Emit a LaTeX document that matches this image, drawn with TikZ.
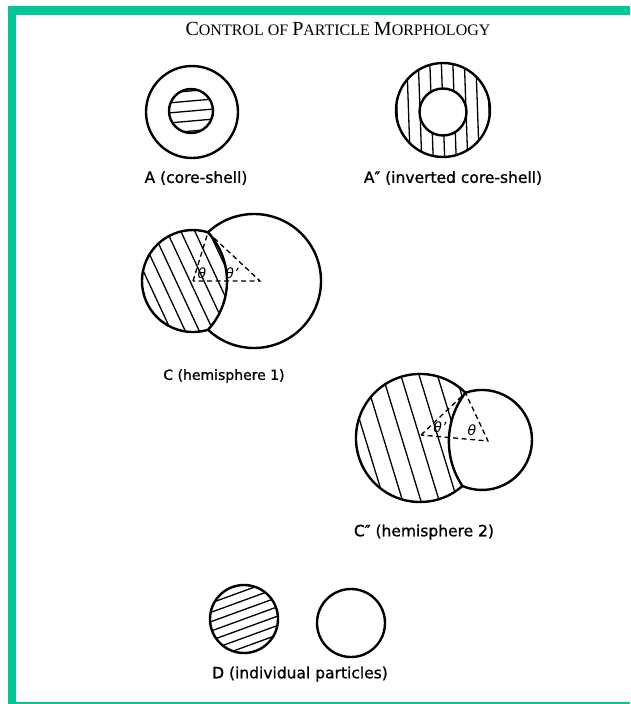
\documentclass[tikz,border=0pt]{standalone}
\usepackage{fontspec}
\setmainfont{DejaVu Sans}
\newfontfamily\labelfont{DejaVu Sans}[FakeBold=1.0]
\newfontfamily\titlefont{Liberation Serif}
\definecolor{framegreen}{RGB}{0,201,151}
\newcommand\TitleBig[1]{{\fontsize{20}{20}\selectfont #1}}
% #1 cx, #2 cy, #3 angle (image coords, y down), #4 spacing, #5 kmax, #6 half length
\newcommand\HatchLines[6]{%
  \foreach \k in {-#5,...,#5}{%
    \draw[hatchline] ({#1+(\k)*#4*(-sin(#3))-#6*cos(#3)},{#2+(\k)*#4*cos(#3)-#6*sin(#3)})
      -- ({#1+(\k)*#4*(-sin(#3))+#6*cos(#3)},{#2+(\k)*#4*cos(#3)+#6*sin(#3)});}}
\begin{document}
\begin{tikzpicture}[x=1pt,y=-1pt,
  outline/.style={line width=2.4pt, line join=round},
  hatchline/.style={line width=1.3pt},
  dashline/.style={line width=1.3pt, dash pattern=on 5pt off 3.5pt},
  lbl/.style={font=\labelfont\fontsize{15.5}{18}\selectfont, inner sep=0pt},
  ang/.style={font=\fontsize{14}{16}\selectfont\itshape, inner sep=0pt}]
\useasboundingbox (0,0) rectangle (630,704);
\fill[white] (0,0) rectangle (630,704);
% frame
\fill[framegreen] (8,6) rectangle (630,14.5);
\fill[framegreen] (8,6) rectangle (16,704);
\fill[framegreen] (8,701.8) rectangle (630,704);
% title
\node[inner sep=0pt] (title) at (338,29)
  {\titlefont\fontsize{16}{20}\selectfont \TitleBig{C}ONTROL OF \TitleBig{P}ARTICLE \TitleBig{M}ORPHOLOGY};

% ---------- A (core-shell)
\begin{scope}
  \clip (191,111) circle[radius=22];
  \HatchLines{191}{111}{-5}{10}{3}{30}
\end{scope}
\draw[outline] (191,111) circle[radius=22];
\draw[outline] (192,112) circle[radius=46];
\node[lbl] (labA) at (196,178) {A (core-shell)};

% ---------- A'' (inverted core-shell)
\begin{scope}
  \clip (443,110) circle[radius=47];
  \HatchLines{443}{110}{88}{11.5}{5}{60}
\end{scope}
\fill[white] (443,112) circle[radius=23.5];
\draw[outline] (443,112) circle[radius=23.5];
\draw[outline] (443,110) circle[radius=47];
\node[lbl] (labAA) at (453,178) {A″ (inverted core-shell)};

% ---------- C (hemisphere 1)
\coordinate (ct) at (208,232.3);
\coordinate (cb) at (208,329.7);
\begin{scope}
  \clip (ct) arc[start angle=-72.88, end angle=-287.12, radius=51]
        arc[start angle=42.63, end angle=-42.63, radius=71.9] -- cycle;
  \HatchLines{190}{281}{65}{12.7}{6}{80}
\end{scope}
\draw[outline] (ct) arc[start angle=-72.88, end angle=-287.12, radius=51]
        arc[start angle=42.63, end angle=-42.63, radius=71.9] -- cycle;
\draw[outline] (ct) arc[start angle=-133.37, end angle=133.37, radius=67];
\coordinate (cl) at (193,281);
\coordinate (cr) at (260,281);
\draw[dashline] (cl) -- (ct) -- (cr) -- cycle;
\node[ang] (thC) at (202,273) {θ};
\node[ang] (thpC) at (232,273) {θ'};
\node[lbl, font=\labelfont\fontsize{14}{16}\selectfont] (labC) at (224,376) {C (hemisphere 1)};

% ---------- C'' (hemisphere 2)
\coordinate (dt) at (465.4,392.8);
\coordinate (db) at (462.4,486);
\begin{scope}
  \clip (dt) arc[start angle=-44.87, end angle=-311.46, radius=64.05]
        arc[start angle=146.17, end angle=217.52, radius=79.96] -- cycle;
  \HatchLines{420}{438}{73}{17.5}{5}{90}
\end{scope}
\draw[outline] (dt) arc[start angle=-44.87, end angle=-311.46, radius=64.05]
        arc[start angle=146.17, end angle=217.52, radius=79.96] -- cycle;
\draw[outline] (dt) arc[start angle=-109.38, end angle=113.08, radius=50];
\coordinate (dl) at (421,435);
\coordinate (dr) at (488,441);
\draw[dashline] (dl) -- (dt) -- (dr) -- cycle;
\node[ang] (thpD) at (440,427) {θ'};
\node[ang] (thD) at (472,430) {θ};
\node[lbl] (labCC) at (424,532) {C″ (hemisphere 2)};

% ---------- D (individual particles)
\begin{scope}
  \clip (244,619) circle[radius=34];
  \HatchLines{244}{619}{-20}{8.8}{5}{45}
\end{scope}
\draw[outline] (244,619) circle[radius=34];
\draw[outline] (351,623) circle[radius=34];
\node[lbl] (labD) at (300,674) {D (individual particles)};
\end{tikzpicture}
\end{document}
